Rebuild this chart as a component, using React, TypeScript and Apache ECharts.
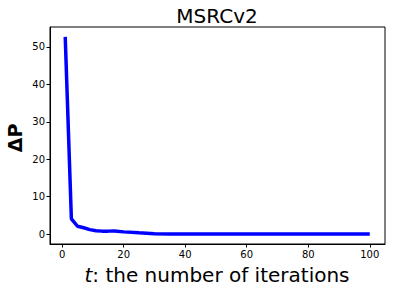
import React, { useEffect, useRef } from "react";
import * as echarts from "echarts";

const iterations = [1, 3, 5, 7, 9, 11, 13, 15, 17, 20, 25, 30, 35, 40, 50, 60, 70, 80, 90, 100];
const deltaP = [52.7, 4.1, 2.1, 1.7, 1.2, 0.9, 0.8, 0.8, 0.85, 0.6, 0.35, 0.12, 0.05, 0.03, 0.02, 0.02, 0.02, 0.02, 0.02, 0.02];
const xTicks = [0, 20, 40, 60, 80, 100];
const yTicks = [0, 10, 20, 30, 40, 50];
const titleText = "MSRCv2";

const FONT = "DejaVu Sans";

export default function App() {
  const ref = useRef<HTMLDivElement>(null);
  useEffect(() => {
    if (!ref.current) return;
    const chart = echarts.init(ref.current, null, { renderer: "svg" });
    chart.setOption({
      animation: false,
      backgroundColor: "#fff",
      grid: {
        left: 50,
        right: 10,
        top: 27,
        bottom: 48,
        show: true,
        borderColor: "#000",
        borderWidth: 1,
        backgroundColor: "transparent",
      },
      xAxis: {
        type: "value",
        min: -3.95,
        max: 104.95,
        splitLine: { show: false },
        axisLine: { show: true, onZero: false, lineStyle: { color: "#000", width: 1 } },
        axisTick: { show: true, length: 3.5, lineStyle: { color: "#000" }, customValues: xTicks },
        axisLabel: { customValues: xTicks, color: "#000", fontFamily: FONT, fontSize: 10, margin: 5 },
      },
      yAxis: {
        type: "value",
        min: -2.64,
        max: 55.34,
        splitLine: { show: false },
        axisLine: { show: true, onZero: false, lineStyle: { color: "#000", width: 1 } },
        axisTick: { show: true, length: 3.5, lineStyle: { color: "#000" }, customValues: yTicks },
        axisLabel: { customValues: yTicks, color: "#000", fontFamily: FONT, fontSize: 10, margin: 5 },
      },
      series: [
        {
          type: "line",
          data: iterations.map((x, i) => [x, deltaP[i]]),
          showSymbol: false,
          lineStyle: { color: "#0000ff", width: 3.5 },
        },
      ],
      graphic: [
        {
          type: "text",
          x: 217,
          y: 16,
          style: { text: titleText, fontFamily: FONT, fontSize: 20, fill: "#000", textAlign: "center", textVerticalAlign: "middle" },
        },
        {
          type: "text",
          x: 15,
          y: 138,
          rotation: Math.PI / 2,
          style: { text: "ΔP", fontFamily: FONT, fontSize: 19, fontWeight: "bold", fill: "#000", textAlign: "center", textVerticalAlign: "middle" },
        },
        {
          type: "text",
          x: 217,
          y: 275,
          style: {
            text: "{i|t}: the number of iterations",
            fontFamily: FONT,
            fontSize: 20,
            fill: "#000",
            textAlign: "center",
            textVerticalAlign: "middle",
            rich: { i: { fontFamily: FONT, fontSize: 20, fontStyle: "italic", fill: "#000" } },
          },
        },
      ],
    });
    return () => chart.dispose();
  }, []);
  return <div ref={ref} style={{ width: 395, height: 292, position: "absolute", left: 0, top: 0 }} />;
}
